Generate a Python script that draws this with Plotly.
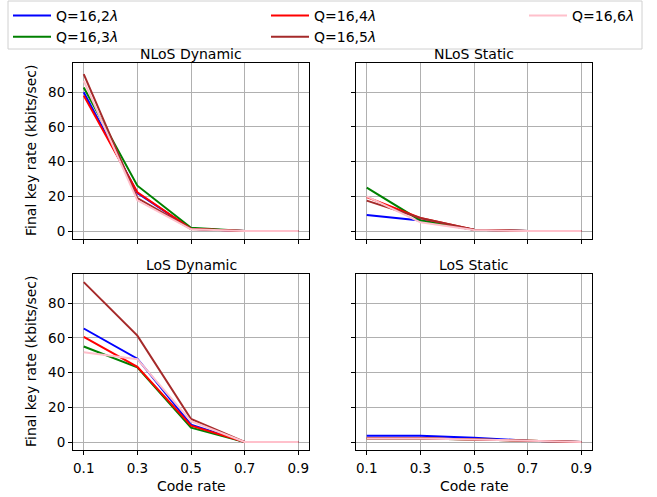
import plotly.graph_objects as go

code_rate = [0.1, 0.3, 0.5, 0.7, 0.9]
labels = ["Q=16,2<i>λ</i>", "Q=16,3<i>λ</i>", "Q=16,4<i>λ</i>", "Q=16,5<i>λ</i>", "Q=16,6<i>λ</i>"]
colors = ["blue", "green", "red", "brown", "pink"]
legend_ids = ["legend", "legend", "legend2", "legend2", "legend3"]

nlos_dynamic = [
    [80.0, 21.9, 1.3, 0.0, 0.0],
    [82.7, 26.1, 1.9, 0.0, 0.0],
    [78.0, 22.3, 1.3, 0.0, 0.0],
    [90.4, 19.0, 1.2, 0.0, 0.0],
    [86.5, 17.7, 1.0, 0.0, 0.0],
]
nlos_static = [
    [9.2, 6.0, 0.8, 0.0, 0.0],
    [25.0, 6.1, 0.8, 0.0, 0.0],
    [19.5, 7.5, 0.8, 0.0, 0.0],
    [17.5, 7.5, 0.8, 0.0, 0.0],
    [20.0, 5.0, 0.6, 0.0, 0.0],
]
los_dynamic = [
    [65.4, 48.0, 10.0, 0.0, 0.0],
    [55.0, 43.0, 8.3, 0.0, 0.0],
    [60.6, 43.3, 9.4, 0.0, 0.0],
    [92.1, 61.3, 13.3, 0.0, 0.0],
    [51.7, 47.7, 12.0, 0.0, 0.0],
]
los_static = [
    [3.6, 3.6, 2.5, 0.8, 0.0],
    [2.0, 2.0, 1.5, 0.8, 0.0],
    [2.1, 2.1, 1.5, 0.8, 0.0],
    [2.0, 2.0, 1.5, 0.8, 0.0],
    [2.0, 2.0, 1.5, 0.8, 0.0],
]
titles = ["NLoS Dynamic", "NLoS Static", "LoS Dynamic", "LoS Static"]
y_ticks = [0, 20, 40, 60, 80]

W, H = 657, 497
FONT = "DejaVu Sans"

fig = go.Figure()
panels = [(nlos_dynamic, "x", "y"), (nlos_static, "x2", "y2"),
          (los_dynamic, "x3", "y3"), (los_static, "x4", "y4")]
for p, (data, xa, ya) in enumerate(panels):
    for i, vals in enumerate(data):
        fig.add_trace(go.Scatter(
            x=code_rate, y=vals, mode="lines", name=labels[i],
            line=dict(color=colors[i], width=2),
            xaxis=xa, yaxis=ya, showlegend=(p == 0), legendgroup=labels[i],
            legend=legend_ids[i],
        ))

# pixel boxes
xl = [(73, 309), (356, 592)]
yl = [(63, 239), (274, 450)]

def xd(a, b):
    return [a / W, b / W]

def yd(a, b):
    return [1 - b / H, 1 - a / H]

common_x = dict(range=[0.06, 0.94], tickvals=code_rate, ticktext=[str(v) for v in code_rate],
                showgrid=True, gridcolor="#b0b0b0", gridwidth=1, showline=True, linecolor="black",
                linewidth=1, mirror=True, ticks="outside", ticklen=4, tickcolor="black",
                zeroline=False, automargin=False, ticklabelstandoff=2,
                tickfont=dict(size=13.5, color="black", family=FONT))
common_y = dict(range=[-4.6, 96.8], tickvals=y_ticks,
                showgrid=True, gridcolor="#b0b0b0", gridwidth=1, showline=True, linecolor="black",
                linewidth=1, mirror=True, ticks="outside", ticklen=4, tickcolor="black",
                zeroline=False, automargin=False,
                tickfont=dict(size=13.5, color="black", family=FONT))

layout_axes = {}
for k in range(4):
    r, c = divmod(k, 2)
    sx = "" if k == 0 else str(k + 1)
    ax = dict(common_x, domain=xd(*xl[c]), anchor="y" + sx, showticklabels=(r == 1))
    ay = dict(common_y, domain=yd(*yl[r]), anchor="x" + sx, showticklabels=(c == 0))
    layout_axes["xaxis" + sx] = ax
    layout_axes["yaxis" + sx] = ay

annotations = []
for k in range(4):
    r, c = divmod(k, 2)
    cx = (xl[c][0] + xl[c][1]) / 2 / W
    ty = 1 - (yl[r][0] + 1) / H
    annotations.append(dict(text=titles[k], x=cx, y=ty, xref="paper", yref="paper",
                            xanchor="center", yanchor="bottom", showarrow=False,
                            font=dict(size=14, color="black", family=FONT)))
for r in range(2):
    cy = 1 - (yl[r][0] + yl[r][1]) / 2 / H
    annotations.append(dict(text="Final key rate (kbits/sec)", x=31 / W, y=cy, xref="paper",
                            yref="paper", xanchor="center", yanchor="middle", textangle=-90,
                            showarrow=False, font=dict(size=14, color="black", family=FONT)))
for c in range(2):
    cx = (xl[c][0] + xl[c][1]) / 2 / W
    annotations.append(dict(text="Code rate", x=cx, y=1 - 486 / H, xref="paper", yref="paper",
                            xanchor="center", yanchor="middle", showarrow=False,
                            font=dict(size=14, color="black", family=FONT)))

def leg(xpix):
    return dict(orientation="v", x=xpix / W, y=1, xanchor="left", yanchor="top",
                borderwidth=0, bgcolor="rgba(0,0,0,0)", tracegroupgap=0, itemwidth=38,
                font=dict(size=14, family=FONT, color="black"))

fig.update_layout(
    width=W, height=H, margin=dict(l=0, r=0, t=0, b=0, autoexpand=False),
    paper_bgcolor="white", plot_bgcolor="white",
    font=dict(family=FONT, size=14, color="black"),
    legend=leg(8), legend2=leg(266), legend3=leg(524),
    annotations=annotations,
    shapes=[dict(type="rect", xref="paper", yref="paper", x0=8 / W, x1=642 / W,
                 y0=1 - 49 / H, y1=1 - 1 / H, line=dict(color="#d0d0d0", width=1),
                 fillcolor="rgba(0,0,0,0)", layer="below")],
    **layout_axes,
)

fig.write_html("out.html", config={"displayModeBar": False},
               post_script="document.body.style.margin='0';document.body.style.overflow='hidden';")
